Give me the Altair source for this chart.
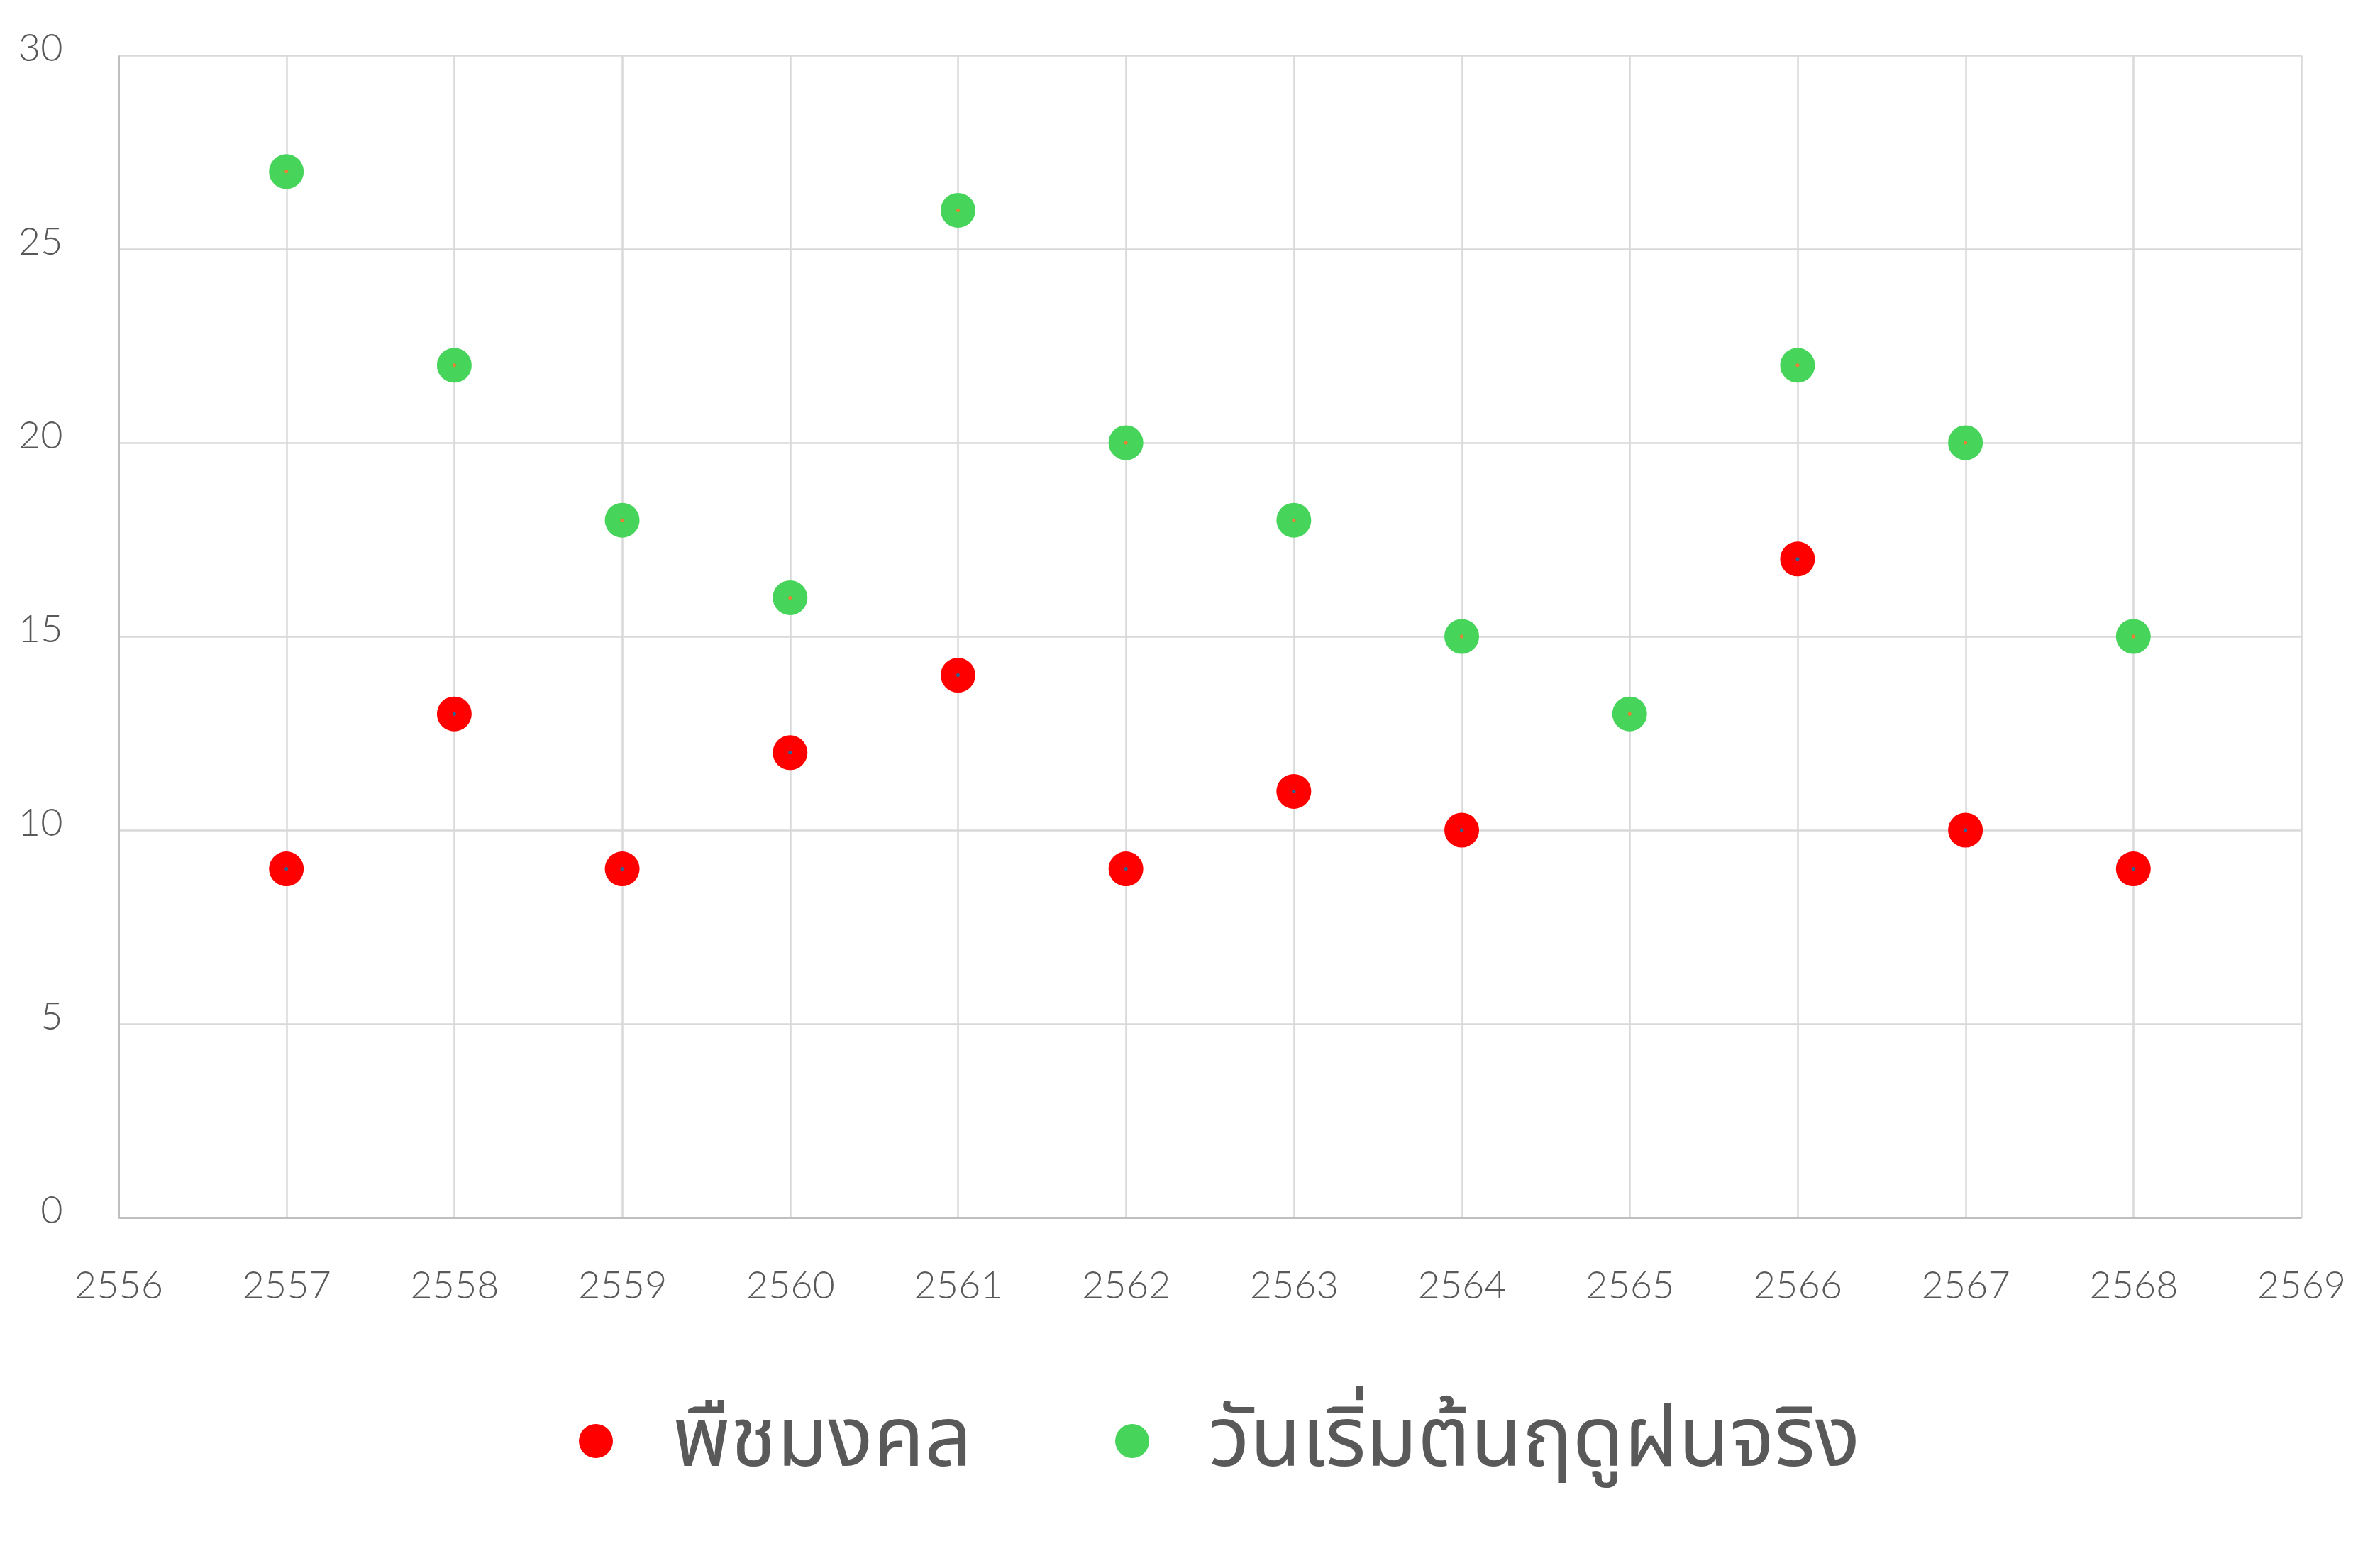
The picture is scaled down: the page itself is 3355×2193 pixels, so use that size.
import altair as alt
import pandas as pd

years = [2557, 2558, 2559, 2560, 2561, 2562, 2563, 2564, 2565, 2566, 2567, 2568]
series_names = ["พืชมงคล", "วันเริ่มต้นฤดูฝนจริง"]
red_values = [9, 13, 9, 12, 14, 9, 11, 10, None, 17, 10, 9]
green_values = [27, 22, 18, 16, 26, 20, 18, 15, 13, 22, 20, 15]
series_colors = ["#FF0000", "#47D45B"]
inner_colors = ["#2A6496", "#ED7D31"]

rows = []
for y, v in zip(years, red_values):
    if v is not None:
        rows.append({"year": y, "value": v, "series": series_names[0]})
for y, v in zip(years, green_values):
    if v is not None:
        rows.append({"year": y, "value": v, "series": series_names[1]})
df = pd.DataFrame(rows)

FONT = "Lato, Noto Sans, sans-serif"
THAI_FONT = "Leelawadee UI, Noto Sans Thai, Noto Looped Thai, Loma, Garuda, Tlwg Typo, sans-serif"

x_enc = alt.X("year:Q", scale=alt.Scale(domain=[2556, 2569], nice=False, zero=False),
              axis=alt.Axis(values=list(range(2556, 2570)), format="d", title=None,
                            grid=True, gridColor="#D9D9D9", gridWidth=2.5,
                            domainColor="#BFBFBF", domainWidth=3, ticks=False, tickSize=0,
                            labelFont=FONT, labelFontSize=54, labelFontWeight=300,
                            labelColor="#595959", labelPadding=97, labelBaseline="middle",
                            labelFlush=False))
y_enc = alt.Y("value:Q", scale=alt.Scale(domain=[0, 30], nice=False),
              axis=alt.Axis(values=list(range(0, 31, 5)), title=None,
                            grid=True, gridColor="#D9D9D9", gridWidth=2.5,
                            domainColor="#BFBFBF", domainWidth=3, ticks=False, tickSize=0,
                            labelFont=FONT, labelFontSize=54, labelFontWeight=300,
                            labelColor="#595959", labelPadding=79, labelOffset=-9,
                            labelFlush=False))

big = alt.Chart(df).mark_point(filled=True, opacity=1, size=2400, shape="circle").encode(
    x=x_enc,
    y=y_enc,
    color=alt.Color("series:N", sort=series_names,
                    scale=alt.Scale(domain=series_names, range=series_colors),
                    legend=alt.Legend(title=None, orient="none", direction="horizontal",
                                      legendX=614, legendY=1894,
                                      symbolType="circle", symbolSize=2300,
                                      symbolOpacity=1,
                                      labelFont=THAI_FONT, labelFontSize=118,
                                      labelColor="#595959", labelOffset=49,
                                      columnPadding=166, labelLimit=2000)),
)

small = alt.Chart(df).mark_point(filled=True, opacity=1, size=25, shape="circle").encode(
    x="year:Q",
    y="value:Q",
    fill=alt.Fill("series:N", scale=alt.Scale(domain=series_names, range=inner_colors),
                  legend=None),
)

chart = alt.layer(big, small).properties(
    width=3077, height=1638,
    autosize=alt.AutoSizeParams(type="none"),
    padding={"left": 159, "top": 70, "right": 103, "bottom": 460},
    background="white",
).configure_view(stroke=None)

chart.save("out.html", embed_options={"renderer": "svg", "actions": False})
